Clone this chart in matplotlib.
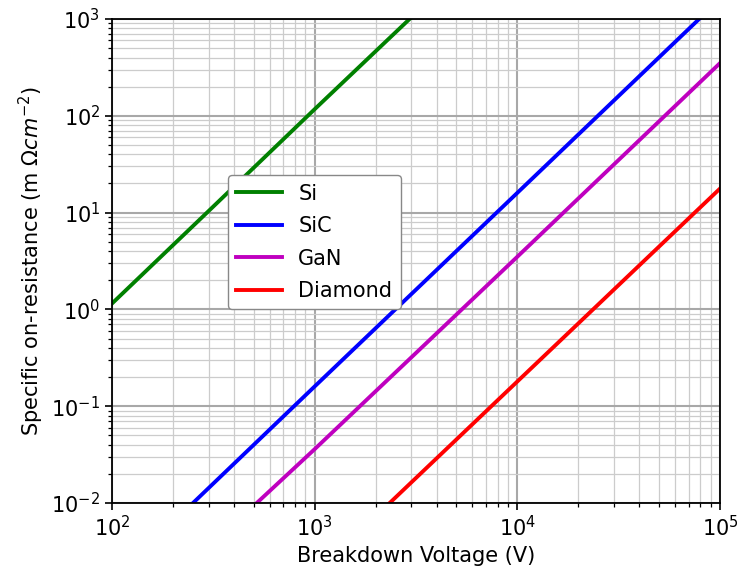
import matplotlib
matplotlib.use("Agg")
import matplotlib.pyplot as plt

# Breakdown voltage (V) and specific on-resistance (m Ohm cm^-2)
si_v = [100, 300, 1000, 2940]
si_r = [1.15, 10.4, 117, 1000]

sic_v = [251, 1000, 10000, 78900]
sic_r = [0.01, 0.16, 16, 1000]

gan_v = [518, 1000, 10000, 100000]
gan_r = [0.01, 0.036, 3.5, 350]

dia_v = [2345, 10000, 100000]
dia_r = [0.01, 0.18, 17.7]

labels = ["Si", "SiC", "GaN", "Diamond"]
colors = ["g", "b", "m", "r"]

fig = plt.figure(figsize=(7.39, 5.74), dpi=100)
ax = fig.add_axes([112/739, 1 - 503/574, 608/739, 484/574])

for v, r, lab, c in zip([si_v, sic_v, gan_v, dia_v], [si_r, sic_r, gan_r, dia_r], labels, colors):
    ax.plot(v, r, color=c, lw=2.8, label=lab)

ax.set_xscale("log")
ax.set_yscale("log")
ax.set_xlim(1e2, 1e5)
ax.set_ylim(1e-2, 1e3)
ax.grid(True, which="major", color="#a8a8a8", lw=1.5)
ax.grid(True, which="minor", color="#cccccc", lw=0.9)
for s in ax.spines.values():
    s.set_linewidth(1.3)
ax.tick_params(which="major", labelsize=15, length=5, width=1.2)
ax.tick_params(which="minor", length=3, width=0.9)
ax.set_xlabel("Breakdown Voltage (V)", fontsize=15)
ax.set_ylabel(r"Specific on-resistance (m $\Omega cm^{-2}$)", fontsize=15)
ax.legend(loc="lower left", bbox_to_anchor=(0.19, 0.40), borderaxespad=0, fontsize=15,
          framealpha=1, edgecolor="#888888", handlelength=2.2, labelspacing=0.6)

fig.savefig("out.png", dpi=100)
